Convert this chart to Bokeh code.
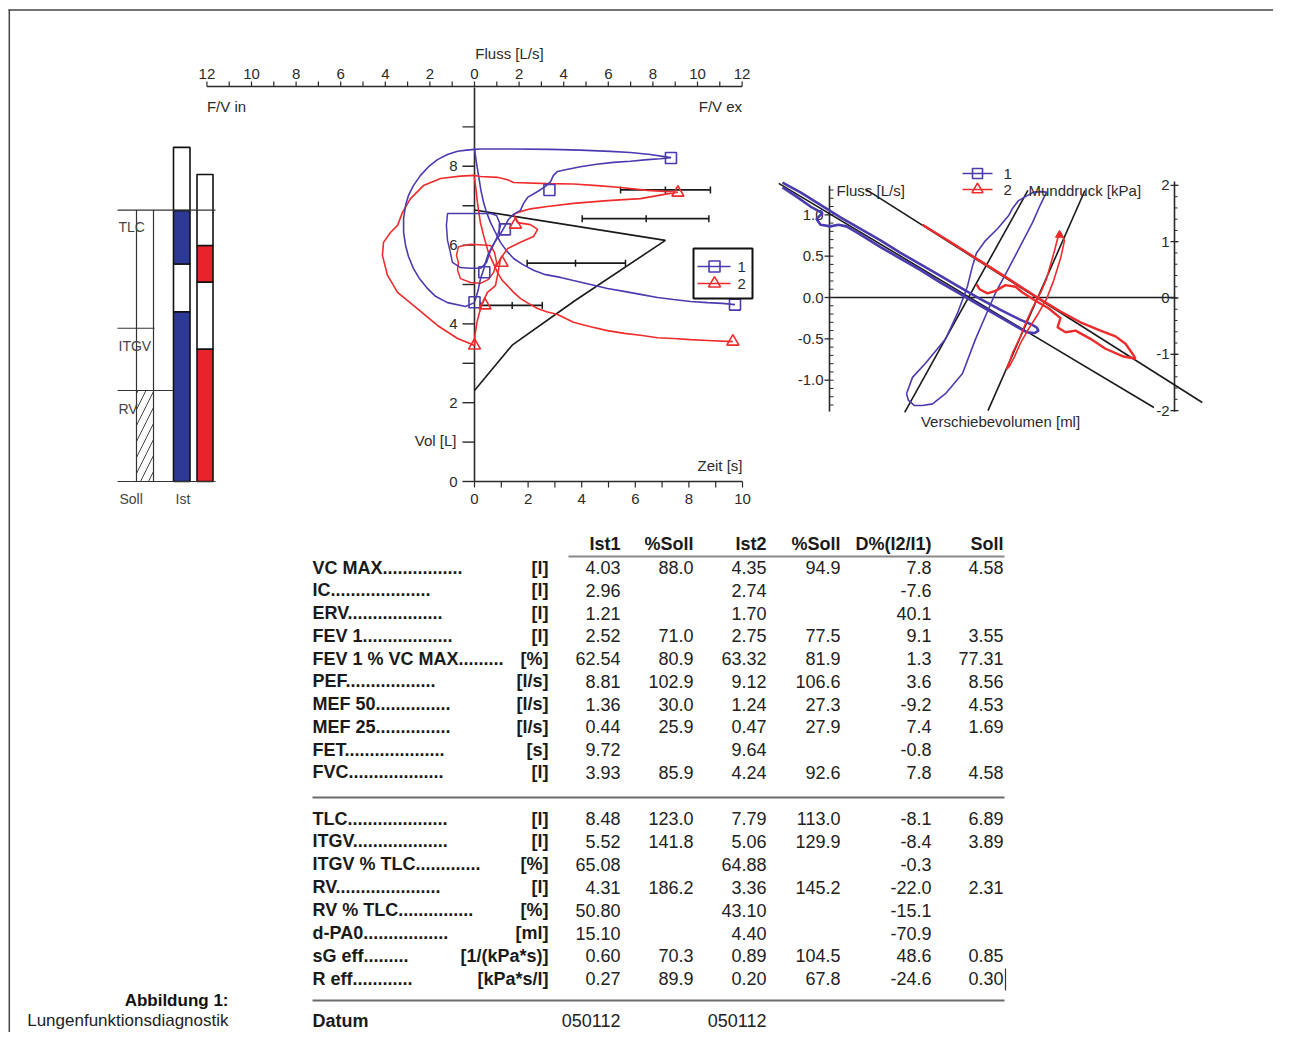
import math
from bokeh.plotting import figure
from bokeh.models import Range1d
from bokeh.embed import file_html
from bokeh.resources import INLINE
from bokeh.core.properties import value

# ====================== DATA ======================
# Lung volume bars [L]
soll_tlc = 6.89
soll_itgv = 3.89
soll_rv = 2.31
ist1_edges = [0.0, 4.31, 5.52, 6.88, 8.48]
ist2_edges = [0.0, 3.36, 5.06, 5.99, 7.79]

# Flow-volume loop 1 (flow L/s, inspiration negative; volume L)
fv1_flow = [0.00, -0.40, -1.21, -1.75, -2.11, -2.47, -2.74, -2.96, -3.09, -3.18,
            -3.18, -3.09, -2.96, -2.74, -2.42, -2.06, -1.66, -1.21, -0.76, -0.36,
            0.00, 0.27, 1.75, 3.41, 4.75, 6.10, 6.99, 7.89, 8.81, 8.34,
            7.76, 6.99, 6.23, 5.47, 4.75, 4.13, 3.72, 3.54, 3.41, 3.18,
            2.83, 2.38, 2.20, 2.06, 1.75, 1.52, 1.35, 1.17, 0.90, 0.63,
            0.49, 0.40, 0.27, 0.18, 0.09, 0.01]
fv1_vol = [4.54, 4.44, 4.54, 4.70, 4.90, 5.15, 5.41, 5.71, 5.99, 6.32,
           6.68, 7.01, 7.26, 7.51, 7.77, 7.99, 8.17, 8.30, 8.38, 8.41,
           8.43, 8.44, 8.44, 8.43, 8.41, 8.38, 8.35, 8.30, 8.22, 8.19,
           8.17, 8.13, 8.10, 8.05, 7.99, 7.92, 7.87, 7.77, 7.61, 7.49,
           7.36, 7.21, 7.06, 6.88, 6.78, 6.65, 6.47, 6.29, 6.07, 5.79,
           5.56, 5.36, 5.15, 4.90, 4.70, 4.57]
tid1_flow = [0.72, -0.18, -1.21, -1.26, -1.21, -1.08, -0.99, -0.63, -0.18, 0.27, 0.54, 0.72, 0.99, 1.17, 0.99, 0.72]
tid1_vol = [6.80, 6.80, 6.80, 6.50, 6.12, 5.81, 5.56, 5.43, 5.41, 5.41, 5.56, 5.86, 6.17, 6.50, 6.75, 6.80]

# Flow-volume loop 2
fv2_flow = [0.01, -0.76, -1.66, -2.74, -3.45, -3.90, -4.13, -4.08, -3.77, -3.45,
            -3.23, -2.87, -2.29, -1.52, -0.63, -0.03, 0.27, 1.03, 1.48, 1.75,
            3.27, 4.44, 5.52, 6.55, 7.76, 9.12, 8.65, 7.44, 5.96, 4.44,
            3.27, 2.51, 2.06, 1.75, 1.93, 2.51, 2.83, 2.65, 2.06, 1.48,
            1.17, 1.03, 0.94, 0.58, 0.40, 0.22, 0.11, 0.02, 0.01]
fv2_vol = [3.45, 3.63, 3.96, 4.47, 4.80, 5.23, 5.74, 6.07, 6.32, 6.50,
           6.83, 7.18, 7.51, 7.69, 7.75, 7.77, 7.74, 7.72, 7.66, 7.59,
           7.56, 7.55, 7.51, 7.46, 7.39, 7.34, 7.30, 7.18, 7.13, 7.06,
           6.98, 6.92, 6.85, 6.78, 6.57, 6.52, 6.40, 6.22, 6.07, 5.91,
           5.66, 5.23, 4.97, 4.80, 4.59, 4.29, 4.04, 3.71, 3.45]
tid2_flow = [0.72, -0.18, -0.72, -0.81, -0.72, -0.76, -0.63, -0.18, 0.27, 0.63, 0.85, 0.99, 0.90, 0.72]
tid2_vol = [5.99, 6.02, 5.96, 5.74, 5.56, 5.36, 5.15, 5.05, 5.03, 5.13, 5.30, 5.56, 5.81, 5.99]

# Volume-time curves (s, L)
vt1_t = [0.00, 0.07, 0.15, 0.24, 0.34, 0.45, 0.60, 0.78, 0.97, 1.19, 1.46, 1.79, 2.20,
         2.65, 3.21, 3.69, 4.33, 4.96, 5.63, 6.19, 6.83, 7.43, 8.06, 8.69, 9.25, 9.72]
vt1_v = [8.45, 8.10, 7.77, 7.39, 7.08, 6.83, 6.57, 6.32, 6.07, 5.86, 5.66, 5.51, 5.36,
         5.25, 5.18, 5.10, 5.00, 4.90, 4.82, 4.75, 4.67, 4.62, 4.57, 4.54, 4.52, 4.49]
vt2_t = [0.00, 0.06, 0.11, 0.22, 0.34, 0.52, 0.71, 0.86, 1.04, 1.23, 1.46, 1.72, 2.01,
         2.35, 2.69, 3.10, 3.69, 4.33, 4.96, 5.60, 6.19, 6.83, 7.43, 8.06, 8.69, 9.64]
vt2_v = [7.72, 7.39, 7.08, 6.57, 6.24, 5.81, 5.53, 5.30, 5.10, 4.97, 4.80, 4.64, 4.52,
         4.39, 4.31, 4.24, 4.04, 3.93, 3.83, 3.76, 3.71, 3.65, 3.63, 3.60, 3.58, 3.55]

# Markers (PEF, MEF75, MEF50, MEF25, end)
mk1_flow = [8.81, 3.36, 1.36, 0.44, 0.00]
mk1_vol = [8.21, 7.40, 6.40, 5.31, 4.55]
mk2_flow = [9.12, 1.84, 1.24, 0.47, 0.00]
mk2_vol = [7.33, 6.52, 5.55, 4.47, 3.45]

# Predicted flow-volume curve and normal ranges
soll_fv_flow = [0.0, 8.56, 4.53, 1.69, 0.0]
soll_fv_vol = [6.89, 6.12, 4.60, 3.46, 2.31]
rng_lo = [6.55, 4.83, 2.36, 0.27]
rng_mid = [8.56, 7.70, 4.53, 1.69]
rng_hi = [10.58, 10.51, 6.77, 3.04]
rng_vol = [7.40, 6.67, 5.54, 4.47]

flow_ticks = list(range(-12, 13))
flow_labels = list(range(-12, 13, 2))
vol_ticks = list(range(0, 10))
vol_labels = [0, 2, 4, 6, 8]
time_ticks = list(range(0, 11))
time_labels = [0, 2, 4, 6, 8, 10]

# Resistance loops (Verschiebevolumen ml vs flow L/s) and shutter loops (ml vs kPa)
res1_ml = [-94, -85, -75, -65, -55, -45, -35, -25, -15, -5, 5, 15, 25, 30, 33,
           34, 32, 28, 25, 15, 5, -5, -15, -25, -35, -45, -55, -62, -66, -70, -75, -77,
           -74, -80, -87, -94]
res1_flow = [1.39, 1.27, 1.12, 0.97, 0.83, 0.69, 0.54, 0.40, 0.26, 0.12, -0.02, -0.15, -0.27, -0.32, -0.36,
             -0.40, -0.43, -0.42, -0.38, -0.24, -0.10, 0.04, 0.18, 0.33, 0.47, 0.61, 0.76, 0.86, 0.88, 0.86, 0.88, 0.95,
             1.02, 1.10, 1.22, 1.33]
res2_ml = [-24, -10, 5, 20, 33.5, 45, 55, 65, 72.5, 77.5,
           81, 82.5, 76, 67.5, 60, 52.5, 47.5, 43.5, 45, 39,
           32.5, 26, 22.5, 17.5, 12.5, 8.5, 4.5, 3]
res2_flow = [0.88, 0.67, 0.44, 0.21, 0.00, -0.17, -0.30, -0.40, -0.47, -0.56,
             -0.68, -0.74, -0.71, -0.62, -0.50, -0.40, -0.42, -0.36, -0.25, -0.13,
             -0.04, 0.06, 0.13, 0.15, 0.08, 0.05, 0.10, 0.16]
sh1_ml = [-32, -29, -22.5, -12.5, -6.5, -1.5, 1, 3, 7.5, 13.5,
          19, 21, 24, 27.5, 31.5, 35, 38, 35, 31, 25,
          19, 12.5, 7.5, 2.5, -4, -12.5, -19, -24, -28, -31, -32]
sh1_kpa = [-1.70, -1.41, -1.16, -0.73, -0.27, 0.21, 0.57, 0.80, 1.02, 1.23,
           1.46, 1.59, 1.73, 1.80, 1.88, 1.89, 1.88, 1.66, 1.34, 0.93,
           0.52, 0.09, -0.32, -0.73, -1.34, -1.70, -1.88, -1.91, -1.91, -1.82, -1.70]
sh2_ml = [18, 21, 25, 28, 31.5, 35, 38, 40, 42, 43.5, 45, 47, 45, 41.5, 38, 34, 29, 25, 22, 19.5, 18]
sh2_kpa = [-1.27, -0.98, -0.68, -0.41, -0.14, 0.09, 0.34, 0.59, 0.84, 1.05, 1.16, 1.02,
           0.70, 0.30, -0.02, -0.27, -0.55, -0.80, -1.04, -1.21, -1.27]
resA_ml, resA_flow = [-95.9, 91.7], [1.38, -1.33]
resB_ml, resB_flow = [-52.5, 115.9], [1.31, -1.27]
shC_ml, shC_kpa = [-32.9, 28.7], [-2.03, 1.91]
shD_ml, shD_kpa = [8.75, 57.2], [-2.00, 1.91]
rflow_major = [-1.0, -0.5, 0.0, 0.5, 1.0]
rflow_minor = [round(-1.3 + 0.1 * i, 1) for i in range(27)]
kpa_major = [-2, -1, 0, 1, 2]
kpa_minor = [round(-2.0 + 0.2 * i, 1) for i in range(21)]

# Table
tab_labels = ["VC MAX" + "." * 16, "IC" + "." * 20, "ERV" + "." * 19, "FEV 1" + "." * 18,
              "FEV 1 % VC MAX" + "." * 9, "PEF" + "." * 18, "MEF 50" + "." * 15, "MEF 25" + "." * 15,
              "FET" + "." * 20, "FVC" + "." * 19,
              "TLC" + "." * 20, "ITGV" + "." * 19, "ITGV % TLC" + "." * 13, "RV" + "." * 21,
              "RV % TLC" + "." * 15, "d-PA0" + "." * 17, "sG eff" + "." * 9, "R eff" + "." * 12]
tab_units = ["[l]", "[l]", "[l]", "[l]", "[%]", "[l/s]", "[l/s]", "[l/s]", "[s]", "[l]",
             "[l]", "[l]", "[%]", "[l]", "[%]", "[ml]", "[1/(kPa*s)]", "[kPa*s/l]"]
ist1 = [4.03, 2.96, 1.21, 2.52, 62.54, 8.81, 1.36, 0.44, 9.72, 3.93,
        8.48, 5.52, 65.08, 4.31, 50.80, 15.10, 0.60, 0.27]
pct1 = [88.0, None, None, 71.0, 80.9, 102.9, 30.0, 25.9, None, 85.9,
        123.0, 141.8, None, 186.2, None, None, 70.3, 89.9]
ist2 = [4.35, 2.74, 1.70, 2.75, 63.32, 9.12, 1.24, 0.47, 9.64, 4.24,
        7.79, 5.06, 64.88, 3.36, 43.10, 4.40, 0.89, 0.20]
pct2 = [94.9, None, None, 77.5, 81.9, 106.6, 27.3, 27.9, None, 92.6,
        113.0, 129.9, None, 145.2, None, None, 104.5, 67.8]
dpct = [7.8, -7.6, 40.1, 9.1, 1.3, 3.6, -9.2, 7.4, -0.8, 7.8,
        -8.1, -8.4, -0.3, -22.0, -15.1, -70.9, 48.6, -24.6]
soll = [4.58, None, None, 3.55, 77.31, 8.56, 4.53, 1.69, None, 4.58,
        6.89, 3.89, None, 2.31, None, None, 0.85, 0.30]
headers = ["Ist1", "%Soll", "Ist2", "%Soll", "D%(I2/I1)", "Soll"]
datum = ["050112", "050112"]

# ====================== FIGURE ======================
W, H = 1273, 1032
X0, Y0 = 0, 0
p = figure(width=W, height=H, x_range=Range1d(X0, X0 + W), y_range=Range1d(Y0 + H, Y0),
           output_backend="svg", toolbar_location=None, x_axis_location=None,
           y_axis_location=None, min_border=0, title=None)
p.outline_line_color = None
p.background_fill_color = "white"
p.border_fill_color = "white"
p.grid.visible = False


def xr(origin, k):
    return Range1d((X0 - origin) / k, (X0 + W - origin) / k)


def yr(origin, k):
    return Range1d((origin - (Y0 + H)) / k, (origin - Y0) / k)


p.extra_x_ranges = {"flow": xr(474, 22.3), "time": xr(474, 26.8), "ml": xr(970, 2.0)}
p.extra_y_ranges = {"vol": yr(481, 39.4), "rflow": yr(297, 82.7), "kpa": yr(297.5, 56.3)}

INK = "#2a2a2a"
BLUE = "#4a3cb0"
RED = "#ef2b2b"
BAR_BLUE = "#2c3a96"
BAR_RED = "#e8232b"
FONT = "Liberation Sans"
CS = 15


def label(xs, ys, texts, size=CS, align="left", baseline="middle", bold=False,
          color=INK, font=FONT, xr_="default", yr_="default"):
    p.text(x=xs, y=ys, text=texts, text_font=value(font), text_font_size=f"{size}px",
           text_font_style="bold" if bold else "normal", text_align=align,
           text_baseline=baseline, text_color=color, x_range_name=xr_, y_range_name=yr_)


# ---- frame ----
p.line([8, X0 + W], [9.5, 9.5], line_color="#444", line_width=1.5)
p.line([8.8, 8.8], [9, Y0 + H], line_color="#444", line_width=1.5)

# ---- caption ----
label([228], [1000], ["Abbildung 1:"], size=17, align="right", bold=True, color="#111")
label([228], [1020], ["Lungenfunktionsdiagnostik"], size=17, align="right", color="#222")

# ---- lung volume bars ----
p.quad(left=136, right=153, bottom=0, top=soll_rv, fill_color="white", line_color=None,
       hatch_pattern="/", hatch_color="#444", hatch_scale=16, hatch_weight=1,
       y_range_name="vol")
p.quad(left=173, right=189.5, bottom=ist1_edges[:-1], top=ist1_edges[1:],
       fill_color=[BAR_BLUE, "white", BAR_BLUE, "white"], line_color="#111",
       line_width=1.6, y_range_name="vol")
p.quad(left=196.5, right=212.5, bottom=ist2_edges[:-1], top=ist2_edges[1:],
       fill_color=[BAR_RED, "white", BAR_RED, "white"], line_color="#111",
       line_width=1.6, y_range_name="vol")
p.segment(x0=[136, 153], y0=[0, 0], x1=[136, 153], y1=[soll_tlc, soll_tlc],
          line_color="#333", line_width=1.2, y_range_name="vol")
p.segment(x0=[117, 117, 117, 117], x1=[215, 154, 173, 215],
          y0=[soll_tlc, soll_itgv, soll_rv, 0], y1=[soll_tlc, soll_itgv, soll_rv, 0],
          line_color="#333", line_width=1.2, y_range_name="vol")
label([118, 118, 118], [6.45, 3.43, 1.85], ["TLC", "ITGV", "RV"], size=14, color="#444",
      yr_="vol")
label([119, 175], [498, 498], ["Soll", "Ist"], size=14, color="#444")

# ---- flow-volume / volume-time chart axes ----
p.line([0, 0], [0, 10.0], x_range_name="flow", y_range_name="vol", line_color=INK, line_width=1.6)
p.segment(x0=[462] * len(vol_ticks), x1=[474] * len(vol_ticks), y0=vol_ticks, y1=vol_ticks,
          y_range_name="vol", line_color=INK, line_width=1.4)
label([457] * len(vol_labels), vol_labels, [str(v) for v in vol_labels], align="right",
      yr_="vol")
label([456], [1.05], ["Vol [L]"], align="right", yr_="vol")

p.line([-12, 12], [86, 86], x_range_name="flow", line_color=INK, line_width=1.6)
p.segment(x0=flow_ticks, x1=flow_ticks, y0=[81] * len(flow_ticks), y1=[86] * len(flow_ticks),
          x_range_name="flow", line_color=INK, line_width=1.2)
label(flow_labels, [73] * len(flow_labels), [str(abs(v)) for v in flow_labels], align="center",
      xr_="flow")
label([509], [53], ["Fluss [L/s]"], align="center")
label([-12], [106], ["F/V in"], align="left", xr_="flow")
label([12], [106], ["F/V ex"], align="right", xr_="flow")

p.line([0, 10], [0, 0], x_range_name="time", y_range_name="vol", line_color=INK, line_width=1.6)
p.segment(x0=time_ticks, x1=time_ticks, y0=[481] * len(time_ticks), y1=[487] * len(time_ticks),
          x_range_name="time", line_color=INK, line_width=1.2)
label(time_labels, [498] * len(time_labels), [str(v) for v in time_labels], align="center",
      xr_="time")
label([10], [465], ["Zeit [s]"], align="right", xr_="time")

# predicted curve + normal ranges
p.line(soll_fv_flow, soll_fv_vol, x_range_name="flow", y_range_name="vol", line_color="#1a1a1a",
       line_width=1.6)
p.segment(x0=rng_lo, x1=rng_hi, y0=rng_vol, y1=rng_vol, x_range_name="flow", y_range_name="vol",
          line_color="#1a1a1a", line_width=1.8)
for xs in (rng_lo, rng_mid, rng_hi):
    p.scatter(xs, rng_vol, marker="dash", angle=math.pi / 2, size=7, line_color="#1a1a1a",
              line_width=1.5, x_range_name="flow", y_range_name="vol")

# measured curves
p.line(vt1_t, vt1_v, x_range_name="time", y_range_name="vol", line_color=BLUE, line_width=1.6)
p.line(vt2_t, vt2_v, x_range_name="time", y_range_name="vol", line_color=RED, line_width=1.6)
p.line(fv2_flow, fv2_vol, x_range_name="flow", y_range_name="vol", line_color=RED, line_width=1.6)
p.line(tid2_flow, tid2_vol, x_range_name="flow", y_range_name="vol", line_color=RED, line_width=1.5)
p.line(fv1_flow, fv1_vol, x_range_name="flow", y_range_name="vol", line_color=BLUE, line_width=1.6)
p.line(tid1_flow, tid1_vol, x_range_name="flow", y_range_name="vol", line_color=BLUE, line_width=1.5)

p.scatter(mk1_flow, mk1_vol, marker="square", size=11, fill_alpha=0, line_color=BLUE,
          line_width=1.6, x_range_name="flow", y_range_name="vol")
p.scatter([vt1_t[-1]], [vt1_v[-1]], marker="square", size=11, fill_alpha=0, line_color=BLUE,
          line_width=1.6, x_range_name="time", y_range_name="vol")
p.scatter(mk2_flow, mk2_vol, marker="triangle", size=12, fill_alpha=0, line_color=RED,
          line_width=1.6, x_range_name="flow", y_range_name="vol")
p.scatter([vt2_t[-1]], [vt2_v[-1]], marker="triangle", size=12, fill_alpha=0, line_color=RED,
          line_width=1.6, x_range_name="time", y_range_name="vol")

# legend (middle chart)
p.quad(left=693, right=752, top=248, bottom=298, fill_color="white", line_color="#111",
       line_width=2)
p.line([697, 730], [266, 266], line_color=BLUE, line_width=1.6)
p.scatter([714], [266], marker="square", size=11, fill_alpha=0, line_color=BLUE, line_width=1.6)
p.line([697, 730], [283, 283], line_color=RED, line_width=1.6)
p.scatter([714], [283], marker="triangle", size=12, fill_alpha=0, line_color=RED, line_width=1.6)
label([737, 737], [266, 283], ["1", "2"], size=15)

# ---- resistance / shutter chart ----
p.line([-70.5, 102.5], [0, 0], x_range_name="ml", y_range_name="rflow", line_color="#1a1a1a",
       line_width=1.6)
p.line([829, 829], [-1.38, 1.35], y_range_name="rflow", line_color=INK, line_width=1.6)
p.segment(x0=[824] * 5, x1=[829] * 5, y0=rflow_major, y1=rflow_major, y_range_name="rflow",
          line_color=INK, line_width=1.3)
p.segment(x0=[829] * len(rflow_minor), x1=[833] * len(rflow_minor), y0=rflow_minor,
          y1=rflow_minor, y_range_name="rflow", line_color=INK, line_width=1)
label([823] * 5, rflow_major, ["-1.0", "-0.5", "0.0", "0.5", "1.0"], align="right", yr_="rflow")
p.line([1174, 1174], [-2.02, 2.07], y_range_name="kpa", line_color=INK, line_width=1.6)
p.segment(x0=[1170] * 5, x1=[1178] * 5, y0=kpa_major, y1=kpa_major, y_range_name="kpa",
          line_color=INK, line_width=1.3)
p.segment(x0=[1174] * len(kpa_minor), x1=[1177] * len(kpa_minor), y0=kpa_minor, y1=kpa_minor,
          y_range_name="kpa", line_color=INK, line_width=1)
label([1169] * 5, kpa_major, [str(v) for v in kpa_major], align="right", yr_="kpa")

p.line(resA_ml, resA_flow, x_range_name="ml", y_range_name="rflow", line_color="#1a1a1a", line_width=1.6)
p.line(resB_ml, resB_flow, x_range_name="ml", y_range_name="rflow", line_color="#1a1a1a", line_width=1.6)
p.line(shC_ml, shC_kpa, x_range_name="ml", y_range_name="kpa", line_color="#1a1a1a", line_width=1.6)
p.line(shD_ml, shD_kpa, x_range_name="ml", y_range_name="kpa", line_color="#1a1a1a", line_width=1.6)

p.line(sh1_ml, sh1_kpa, x_range_name="ml", y_range_name="kpa", line_color=BLUE, line_width=1.6)
p.line(res1_ml, res1_flow, x_range_name="ml", y_range_name="rflow", line_color=BLUE, line_width=2.6)
p.line(sh2_ml, sh2_kpa, x_range_name="ml", y_range_name="kpa", line_color=RED, line_width=1.6)
p.scatter([44.5], [1.12], marker="triangle", size=8, fill_color=RED, line_color=RED,
          x_range_name="ml", y_range_name="kpa")
p.line(res2_ml, res2_flow, x_range_name="ml", y_range_name="rflow", line_color=RED, line_width=2.4)

label([836], [190], ["Fluss [L/s]"])
label([1028], [190], ["Munddruck [kPa]"])
label([1000], [421], ["Verschiebevolumen [ml]"], align="center")
# legend (right chart)
p.line([962, 992], [173, 173], line_color=BLUE, line_width=1.6)
p.scatter([977], [173], marker="square", size=10, fill_alpha=0, line_color=BLUE, line_width=1.6)
p.line([962, 992], [189, 189], line_color=RED, line_width=1.6)
p.scatter([977], [189], marker="triangle", size=11, fill_alpha=0, line_color=RED, line_width=1.6)
label([1003, 1003], [173, 189], ["1", "2"], size=15)

# ---- table ----
row_y = [567 + 22.75 * i for i in range(10)] + [818 + 22.9 * i for i in range(8)]
col_right = [620, 693, 766, 840, 931, 1003]
TS = 18
label(col_right, [543] * 6, headers, size=TS, align="right", bold=True, color="#1a1a1a")
p.line([568, 1004], [556, 556], line_color="#8a8a8a", line_width=2)
label([312] * len(tab_labels), row_y, tab_labels, size=TS, bold=True, color="#1a1a1a")
label([548] * len(tab_units), row_y, tab_units, size=TS, align="right", bold=True, color="#1a1a1a")


def col(vals, dec, xright):
    ys = [y for y, v in zip(row_y, vals) if v is not None]
    ts = [f"{v:.{dec}f}" for v in vals if v is not None]
    label([xright] * len(ts), ys, ts, size=TS, align="right", color="#222")


col(ist1, 2, col_right[0])
col(pct1, 1, col_right[1])
col(ist2, 2, col_right[2])
col(pct2, 1, col_right[3])
col(dpct, 1, col_right[4])
col(soll, 2, col_right[5])
p.line([312, 1004], [797, 797], line_color="#6a6a6a", line_width=2)
p.line([312, 1004], [1000, 1000], line_color="#6a6a6a", line_width=2)
p.line([1005, 1005], [968, 990], line_color="#333", line_width=1.2)
label([312], [1020], ["Datum"], size=TS, bold=True, color="#1a1a1a")
label([col_right[0], col_right[2]], [1020, 1020], datum, size=TS, align="right", color="#222")

open("out.html", "w").write(file_html(p, INLINE))
